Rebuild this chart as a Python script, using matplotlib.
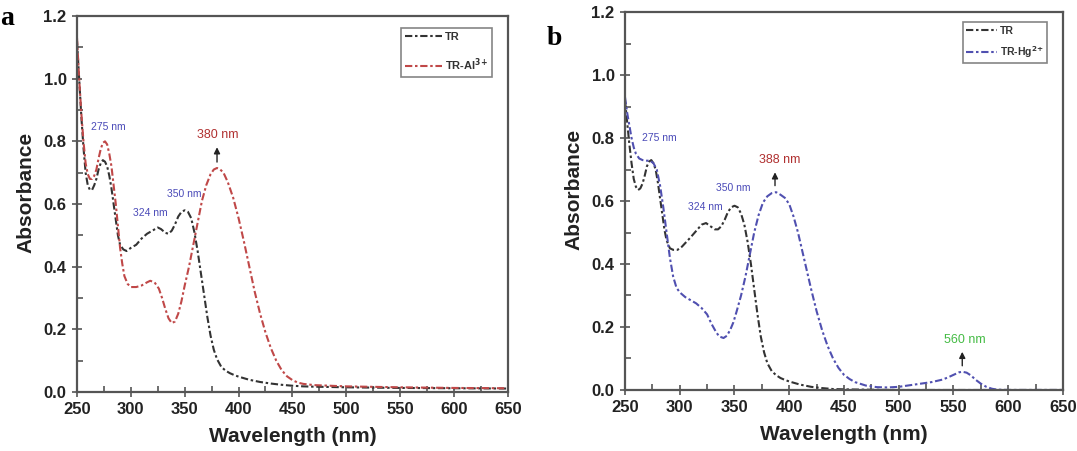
import numpy as np
import matplotlib.pyplot as plt
from matplotlib.ticker import MultipleLocator

plt.rcParams['font.family'] = ['Liberation Sans', 'DejaVu Sans']
plt.rcParams['mathtext.default'] = 'bf'

# Panel a: TR
wl_tr_a = [250, 252, 254, 256, 258, 260, 262, 264, 266, 268, 270, 272, 274, 276, 278, 280, 282,
           284, 286, 288, 290, 293, 296, 300, 305, 310, 315, 320, 325, 328, 332, 335, 338, 341,
           344, 347, 350, 353, 356, 359, 362, 365, 368, 371, 374, 377, 380, 384, 388, 392, 396,
           400, 410, 420, 430, 440, 450, 460, 470, 500, 550, 600, 650]
tr_a = [1.12, 1.0, 0.88, 0.78, 0.70, 0.66, 0.645, 0.645, 0.66, 0.68, 0.71, 0.73, 0.74, 0.735,
        0.72, 0.69, 0.65, 0.60, 0.55, 0.50, 0.47, 0.455, 0.45, 0.46, 0.47, 0.49, 0.505, 0.515,
        0.525, 0.52, 0.508, 0.505, 0.515, 0.535, 0.56, 0.575, 0.58, 0.575, 0.555, 0.51, 0.45,
        0.38, 0.31, 0.24, 0.18, 0.135, 0.105, 0.08, 0.068, 0.06, 0.054, 0.049, 0.039, 0.032,
        0.027, 0.023, 0.020, 0.018, 0.017, 0.015, 0.013, 0.012, 0.011]

# Panel a: TR-Al3+
wl_al_a = [250, 252, 254, 256, 258, 260, 262, 264, 266, 268, 270, 272, 274, 276, 278, 280, 282,
           284, 286, 288, 290, 292, 294, 297, 300, 305, 310, 315, 318, 322, 326, 329, 332, 335,
           338, 341, 344, 347, 350, 354, 358, 362, 366, 370, 374, 377, 380, 383, 386, 390, 395,
           400, 405, 410, 415, 420, 425, 430, 435, 440, 445, 450, 455, 460, 470, 500, 550, 600,
           650]
al_a = [1.13, 1.0, 0.89, 0.80, 0.73, 0.695, 0.68, 0.68, 0.69, 0.71, 0.745, 0.775, 0.795, 0.80,
        0.79, 0.76, 0.72, 0.66, 0.60, 0.53, 0.46, 0.41, 0.37, 0.345, 0.335, 0.335, 0.34, 0.35,
        0.355, 0.35, 0.33, 0.30, 0.265, 0.235, 0.22, 0.225, 0.25, 0.29, 0.34, 0.40, 0.47, 0.54,
        0.61, 0.66, 0.695, 0.71, 0.715, 0.71, 0.70, 0.67, 0.62, 0.555, 0.48, 0.40, 0.32, 0.25,
        0.19, 0.14, 0.10, 0.07, 0.05, 0.038, 0.03, 0.026, 0.022, 0.018, 0.015, 0.013, 0.012]

# Panel b: TR
wl_tr_b = [250, 252, 254, 256, 258, 260, 262, 264, 266, 268, 270, 272, 274, 276, 278, 280, 282,
           284, 286, 288, 291, 294, 298, 302, 306, 310, 315, 320, 324, 328, 332, 335, 338, 341,
           344, 347, 350, 353, 356, 359, 362, 365, 368, 371, 374, 377, 380, 384, 388, 392, 396,
           400, 410, 420, 430, 440, 450, 470, 500, 650]
tr_b = [0.92, 0.85, 0.78, 0.72, 0.67, 0.645, 0.635, 0.64, 0.655, 0.68, 0.71, 0.725, 0.73, 0.72,
        0.70, 0.66, 0.61, 0.56, 0.51, 0.475, 0.45, 0.445, 0.445, 0.455, 0.47, 0.485, 0.505,
        0.525, 0.53, 0.52, 0.51, 0.51, 0.52, 0.54, 0.565, 0.58, 0.585, 0.58, 0.56, 0.525, 0.47,
        0.40, 0.32, 0.24, 0.17, 0.12, 0.085, 0.06, 0.047, 0.038, 0.032, 0.027, 0.017, 0.01,
        0.006, 0.003, 0.002, 0.001, 0.0, 0.0]

# Panel b: TR-Hg2+
wl_hg_b = [250, 252, 254, 256, 258, 260, 263, 266, 270, 273, 276, 279, 282, 285, 288, 291, 294,
           297, 300, 305, 310, 315, 320, 325, 329, 333, 336, 340, 343, 346, 349, 352, 356, 360,
           364, 368, 372, 376, 380, 384, 388, 392, 396, 400, 404, 408, 412, 416, 420, 425, 430,
           435, 440, 445, 450, 455, 460, 470, 480, 490, 500, 510, 520, 530, 540, 545, 550, 555,
           558, 562, 566, 570, 575, 580, 585, 590, 600, 650]
hg_b = [0.93, 0.88, 0.84, 0.80, 0.77, 0.75, 0.735, 0.73, 0.728, 0.728, 0.72, 0.70, 0.65, 0.58,
        0.50, 0.42, 0.36, 0.325, 0.31, 0.295, 0.285, 0.275, 0.26, 0.24, 0.21, 0.185, 0.17,
        0.165, 0.172, 0.19, 0.215, 0.25, 0.30, 0.36, 0.43, 0.50, 0.555, 0.595, 0.615, 0.625,
        0.628, 0.62, 0.61, 0.59, 0.55, 0.50, 0.44, 0.38, 0.32, 0.25, 0.19, 0.14, 0.10, 0.07,
        0.048, 0.035, 0.025, 0.014, 0.009, 0.008, 0.01, 0.015, 0.02, 0.025, 0.033, 0.04, 0.048,
        0.056, 0.058, 0.055, 0.046, 0.033, 0.02, 0.01, 0.004, 0.001, 0.0, 0.0]

# peak labels: (x, y, text, colour, size)
peaks_a = [(279, 0.83, '275 nm', '#4a4ab8', 7.5), (318, 0.555, '324 nm', '#4a4ab8', 7.5),
           (350, 0.615, '350 nm', '#4a4ab8', 7.5), (381, 0.8, '380 nm', '#b03030', 9)]
peaks_b = [(281, 0.785, '275 nm', '#4a4ab8', 7.5), (323, 0.565, '324 nm', '#4a4ab8', 7.5),
           (349, 0.625, '350 nm', '#4a4ab8', 7.5), (391, 0.71, '388 nm', '#b03030', 9),
           (560, 0.14, '560 nm', '#44bb44', 9)]
arrows_a = [(380, 0.725, 0.79)]
arrows_b = [(387, 0.64, 0.70), (558, 0.068, 0.13)]

DASH = (0, (3.5, 1.3, 1.2, 1.3))

fig = plt.figure(figsize=(10.77, 4.51), dpi=100)
ax1 = fig.add_axes([0.0715, 0.1308, 0.400, 0.8337])
ax2 = fig.add_axes([0.5803, 0.1353, 0.4067, 0.838])

def style(ax):
    ax.set_xlim(250, 650)
    ax.set_ylim(0, 1.2)
    ax.xaxis.set_major_locator(MultipleLocator(50))
    ax.xaxis.set_minor_locator(MultipleLocator(25))
    ax.set_yticks(np.arange(0, 1.21, 0.2))
    ax.set_yticklabels(['%.1f' % v for v in np.arange(0, 1.21, 0.2)])
    ax.yaxis.set_minor_locator(MultipleLocator(0.1))
    for s in ax.spines.values():
        s.set_color('#555555')
        s.set_linewidth(1.6)
    ax.tick_params(which='major', direction='inout', length=7, width=1.2, color='#555555',
                   labelsize=12, pad=4)
    ax.tick_params(which='minor', direction='in', length=4, width=1.2, color='#555555')
    for lab in ax.get_xticklabels() + ax.get_yticklabels():
        lab.set_fontweight('bold')
        lab.set_color('#222222')
    ax.set_xlabel('Wavelength (nm)', fontsize=15, fontweight='bold', color='#222222',
                  labelpad=7)
    ax.set_ylabel('Absorbance', fontsize=15, fontweight='bold', color='#222222', y=0.53,
                  labelpad=6)

def add_legend(ax, anchor, fs, hl, ls):
    leg = ax.legend(loc='upper right', bbox_to_anchor=anchor, borderaxespad=0, fontsize=fs,
                    frameon=True, fancybox=False, edgecolor='#666666', handlelength=hl,
                    borderpad=0.35, labelspacing=ls, handletextpad=0.3)
    leg.get_frame().set_linewidth(1.2)
    for t in leg.get_texts():
        t.set_fontweight('bold')
        t.set_color('#333333')

# panel a
ax1.plot(wl_tr_a, tr_a, color='#333333', lw=1.5, ls=DASH, label='TR')
ax1.plot(wl_al_a, al_a, color='#c04848', lw=1.5, ls=DASH, label='TR-Al$^{3{+}}$')
style(ax1)
for x, y, t, c, fs in peaks_a:
    ax1.text(x, y, t, color=c, fontsize=fs, ha='center', va='bottom')
for x, y0, y1 in arrows_a:
    ax1.annotate('', xy=(x, y1), xytext=(x, y0),
                 arrowprops=dict(arrowstyle='-|>', color='#222222', lw=1, mutation_scale=9))
add_legend(ax1, (0.963, 0.968), 8, 3.3, 1.3)
fig.text(0.0, 0.945, 'a', fontsize=20, fontweight='bold', family='Liberation Serif')

# panel b
ax2.plot(wl_tr_b, tr_b, color='#333333', lw=1.5, ls=DASH, label='TR')
ax2.plot(wl_hg_b, hg_b, color='#5050b0', lw=1.5, ls=DASH, label='TR-Hg$^{2{+}}$')
style(ax2)
for x, y, t, c, fs in peaks_b:
    ax2.text(x, y, t, color=c, fontsize=fs, ha='center', va='bottom')
for x, y0, y1 in arrows_b:
    ax2.annotate('', xy=(x, y1), xytext=(x, y0),
                 arrowprops=dict(arrowstyle='-|>', color='#222222', lw=1, mutation_scale=9))
add_legend(ax2, (0.9635, 0.9735), 7.5, 2.9, 0.8)
fig.text(0.508, 0.9, 'b', fontsize=20, fontweight='bold', family='Liberation Serif')

fig.savefig('out.png', dpi=100)
